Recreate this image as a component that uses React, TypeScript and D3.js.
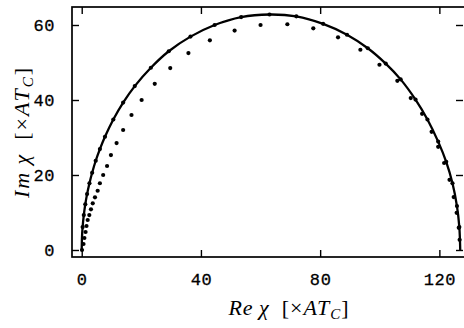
import React, { useEffect, useRef } from 'react';
import * as d3 from 'd3';

// fitted curve (solid line)
const fitRe = [0, 0.1, 0.3, 0.7, 1.2, 1.8, 2.6, 3.5, 4.7, 6.1, 7.8, 10.6, 13.9, 17.8, 23.2, 29.2, 36.5, 44.6, 53.5, 63, 72, 81, 89, 96, 102, 107, 112, 116, 119.6, 122.3, 124.4, 125.9, 126.7, 127.0];
const fitIm = [0, 3.5, 6.1, 9.3, 12.2, 14.9, 17.8, 20.6, 23.8, 26.9, 30.2, 34.8, 39.3, 43.7, 48.6, 53.0, 56.9, 60.0, 62.1, 62.8, 62.3, 60.3, 57.4, 53.8, 49.7, 45.5, 40.1, 34.8, 28.9, 23.5, 17.8, 11.7, 6.1, 0];

// data points lying on the fit
const dotsARe = [0.3, 0.7, 1.2, 1.8, 2.6, 3.5, 4.7, 6.1, 7.8, 10.6, 13.9, 17.8, 23.2, 29.2, 36.5, 44.6, 53.5, 63, 72, 81, 89, 96, 102, 107, 112, 116, 119.6, 122.3, 124.4, 125.9, 126.7];
const dotsAIm = [6.1, 9.3, 12.2, 14.9, 17.8, 20.6, 23.8, 26.9, 30.2, 34.8, 39.3, 43.7, 48.6, 53.0, 56.9, 60.0, 62.1, 62.8, 62.3, 60.3, 57.4, 53.8, 49.7, 45.5, 40.1, 34.8, 28.9, 23.5, 17.8, 11.7, 6.1];

// skewed data points
const dotsBRe = [0.1, 0.6, 0.9, 1.3, 1.6, 2.0, 2.55, 3.1, 3.7, 4.45, 5.35, 6.1, 7.2, 8.5, 9.8, 11.7, 13.9, 16.7, 20.1, 24.5, 29.7, 35.8, 43.0, 51.3, 60.0, 69.0, 77.7, 86.0, 93.5, 99.9, 105.9, 110.4, 114.2, 117.4, 119.6, 121.6, 123.4, 124.8, 125.8, 126.5, 126.8];
const dotsBIm = [0, 1.6, 3.2, 4.8, 6.4, 8.0, 9.3, 10.85, 12.45, 14.05, 15.8, 17.8, 20.0, 22.4, 25.3, 28.5, 32.0, 36.0, 40.0, 44.3, 48.5, 52.5, 55.9, 58.5, 60.0, 60.2, 59.1, 56.7, 53.4, 49.4, 45.1, 40.5, 36.3, 31.5, 27.5, 23.2, 18.7, 14.1, 9.9, 5.9, 2.7];

const xTicks = [0, 40, 80, 120];
const yTicks = [0, 20, 40, 60];

const App = () => {
    const svgRef = useRef<SVGSVGElement>(null);

    useEffect(() => {
        const svg = d3.select(svgRef.current);
        svg.selectAll('*').remove();
        const left = 72, right = 465, top = 7, bottom = 257;
        const x = d3.scaleLinear().domain([-3.26, 128.6]).range([left, right]);
        const y = d3.scaleLinear().domain([-1.87, 64.8]).range([bottom, top]);
        const tick = 7;

        // frame
        svg.append('rect')
            .attr('x', left).attr('y', top)
            .attr('width', right - left).attr('height', bottom - top)
            .attr('fill', 'none').attr('stroke', '#000').attr('stroke-width', 1.7);

        const bottomAxis = d3.axisBottom(x).tickValues(xTicks).tickSize(-tick).tickPadding(tick + 9).tickFormat(d3.format('d'));
        const topAxis = d3.axisTop(x).tickValues(xTicks).tickSize(-tick).tickFormat(() => '');
        const leftAxis = d3.axisLeft(y).tickValues(yTicks).tickSize(-tick).tickPadding(tick + 10).tickFormat(d3.format('d'));
        const rightAxis = d3.axisRight(y).tickValues(yTicks).tickSize(-tick).tickFormat(() => '');

        const styleAxis = (g: any) => {
            g.select('.domain').remove();
            g.selectAll('line').attr('stroke', '#000').attr('stroke-width', 1.4);
            g.selectAll('text')
                .attr('fill', '#000')
                .attr('stroke', '#000').attr('stroke-width', 0.3)
                .style('font-family', '"Liberation Mono", "DejaVu Sans Mono", monospace')
                .style('font-size', '17px')
                .style('letter-spacing', '0.6px');
        };
        svg.append('g').attr('transform', `translate(0,${bottom})`).call(bottomAxis).call(styleAxis);
        svg.append('g').attr('transform', `translate(0,${top})`).call(topAxis).call(styleAxis);
        svg.append('g').attr('transform', `translate(${left},0)`).call(leftAxis).call(styleAxis);
        svg.append('g').attr('transform', `translate(${right - 2},0)`).call(rightAxis).call(styleAxis);

        // fit line
        const fit = fitRe.map((r, i) => [r, fitIm[i]] as [number, number]);
        const line = d3.line<[number, number]>()
            .x(d => x(d[0])).y(d => y(d[1]))
            .curve(d3.curveCatmullRom.alpha(0.5));
        svg.append('path').datum(fit)
            .attr('d', line)
            .attr('fill', 'none').attr('stroke', '#000').attr('stroke-width', 2.3);

        const dotsA = dotsARe.map((r, i) => [r, dotsAIm[i]]);
        const dotsB = dotsBRe.map((r, i) => [r, dotsBIm[i]]);
        svg.append('g').selectAll('circle').data(dotsA.concat(dotsB)).enter()
            .append('circle')
            .attr('cx', d => x(d[0])).attr('cy', d => y(d[1]))
            .attr('r', 2.1).attr('fill', '#000');

        // axis titles
        const serif = '"Liberation Serif", "DejaVu Serif", serif';
        const title = (sel: any, name: string) => {
            sel.append('tspan').style('font-style', 'italic').text(name + '\u2009\u03c7');
            sel.append('tspan').text('\u2002[\u00d7');
            sel.append('tspan').style('font-style', 'italic').text('AT');
            sel.append('tspan').style('font-style', 'italic').style('font-size', '15px').attr('dy', 4).text('C');
            sel.append('tspan').attr('dy', -4).text(']');
        };
        const xt = svg.append('text')
            .attr('x', 289).attr('y', 315)
            .attr('text-anchor', 'middle')
            .style('font-family', serif).style('font-size', '22px')
            .style('letter-spacing', '1px').attr('fill', '#000');
        title(xt, 'Re');

        const yt = svg.append('text')
            .attr('transform', 'translate(29,132) rotate(-90)')
            .attr('text-anchor', 'middle')
            .style('font-family', serif).style('font-size', '22px')
            .style('letter-spacing', '2px').attr('fill', '#000');
        title(yt, 'Im');
    }, []);

    return (
        <svg ref={svgRef} width="464" height="328" style={{ position: 'absolute', left: 0, top: 0, background: '#fff' }}></svg>
    );
};

export default App;
